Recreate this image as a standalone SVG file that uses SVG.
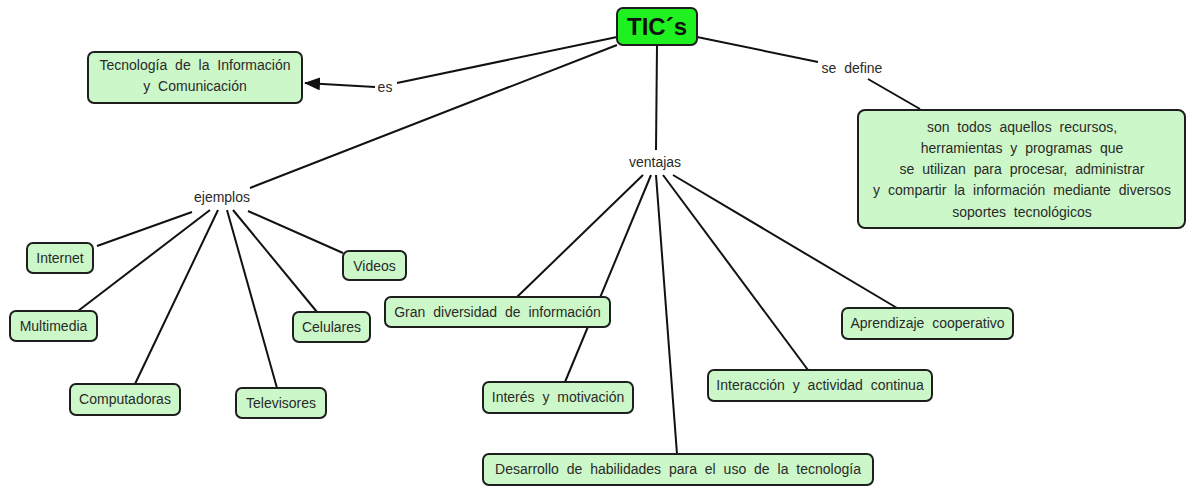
<svg xmlns="http://www.w3.org/2000/svg" width="1190" height="487" viewBox="0 0 1190 487">
<style>
.bg{fill:#ffffff}
.n rect{fill:#ccf7c8;stroke:#1e1e1e;stroke-width:2}
.n text,.lbl{font-family:"Liberation Sans",Arial,sans-serif;font-size:14px;fill:#2a2a2a;text-anchor:middle;word-spacing:4px}
.root rect{fill:#1ff01f;stroke:#1e1e1e;stroke-width:2}
.root text{font-family:"Liberation Sans",Arial,sans-serif;font-size:24px;font-weight:bold;fill:#111;text-anchor:middle}
.c line{stroke:#111;stroke-width:2;fill:none}
</style>
<defs>
<marker id="ah" viewBox="0 0 16 13" refX="15" refY="6.5" markerWidth="16" markerHeight="13" markerUnits="userSpaceOnUse" orient="auto">
<path d="M0,0 L16,6.5 L0,13 Z" fill="#111"/>
</marker>
</defs>
<rect class="bg" x="0" y="0" width="1190" height="487"/>
<g id="connectors" class="c">
<line x1="617" y1="37" x2="397" y2="83"/>
<line x1="375" y1="87" x2="305" y2="83" marker-end="url(#ah)"/>
<line x1="617" y1="45" x2="250" y2="188"/>
<line x1="697" y1="37" x2="818" y2="62"/>
<line x1="868" y1="79" x2="920" y2="109"/>
<line x1="657" y1="45" x2="656" y2="150"/>
<line x1="192" y1="212" x2="97" y2="246"/>
<line x1="210" y1="210" x2="78" y2="311"/>
<line x1="218" y1="210" x2="135" y2="384"/>
<line x1="227" y1="210" x2="277" y2="388"/>
<line x1="233" y1="210" x2="317" y2="312"/>
<line x1="248" y1="211" x2="343" y2="253"/>
<line x1="643" y1="175" x2="517" y2="297"/>
<line x1="651" y1="175" x2="565" y2="382"/>
<line x1="656" y1="175" x2="677" y2="454"/>
<line x1="663" y1="175" x2="808" y2="370"/>
<line x1="673" y1="175" x2="897" y2="308"/>
</g>
<g id="labels">
<text class="lbl" x="385" y="92">es</text>
<text class="lbl" x="852" y="73">se define</text>
<text class="lbl" x="222" y="202">ejemplos</text>
<text class="lbl" x="655" y="167">ventajas</text>
</g>
<g id="tics" class="root"><rect x="617" y="8" width="80" height="37" rx="6"/><text x="657" y="35">TIC´s</text></g>
<g id="tecnologia" class="n"><rect x="88" y="52" width="214" height="51" rx="6"/><text x="195" y="70">Tecnología de la Información</text><text x="195" y="91">y Comunicación</text></g>
<g id="definicion" class="n"><rect x="858" y="110" width="327" height="118" rx="7"/>
<text x="1022" y="132">son todos aquellos recursos,</text>
<text x="1022" y="153">herramientas y programas que</text>
<text x="1022" y="174">se utilizan para procesar, administrar</text>
<text x="1022" y="195">y compartir la información mediante diversos</text>
<text x="1022" y="217">soportes tecnológicos</text></g>
<g id="internet" class="n"><rect x="27" y="243" width="66" height="30" rx="6"/><text x="60" y="263">Internet</text></g>
<g id="multimedia" class="n"><rect x="10" y="311" width="87" height="30" rx="6"/><text x="53.5" y="331">Multimedia</text></g>
<g id="computadoras" class="n"><rect x="70" y="384" width="110" height="31" rx="6"/><text x="125" y="404">Computadoras</text></g>
<g id="televisores" class="n"><rect x="236" y="388" width="90" height="30" rx="6"/><text x="281" y="408">Televisores</text></g>
<g id="celulares" class="n"><rect x="293" y="312" width="77" height="30" rx="6"/><text x="331.5" y="332">Celulares</text></g>
<g id="videos" class="n"><rect x="343" y="251" width="63" height="29" rx="6"/><text x="374.5" y="271">Videos</text></g>
<g id="gran" class="n"><rect x="385" y="297" width="225" height="30" rx="6"/><text x="497.5" y="317">Gran diversidad de información</text></g>
<g id="interes" class="n"><rect x="483" y="382" width="150" height="31" rx="6"/><text x="558" y="402">Interés y motivación</text></g>
<g id="desarrollo" class="n"><rect x="483" y="454" width="390" height="31" rx="6"/><text x="678" y="474">Desarrollo de habilidades para el uso de la tecnología</text></g>
<g id="interaccion" class="n"><rect x="708" y="370" width="224" height="31" rx="6"/><text x="820" y="390">Interacción y actividad continua</text></g>
<g id="aprendizaje" class="n"><rect x="842" y="308" width="171" height="31" rx="6"/><text x="927.5" y="328">Aprendizaje cooperativo</text></g>
</svg>
